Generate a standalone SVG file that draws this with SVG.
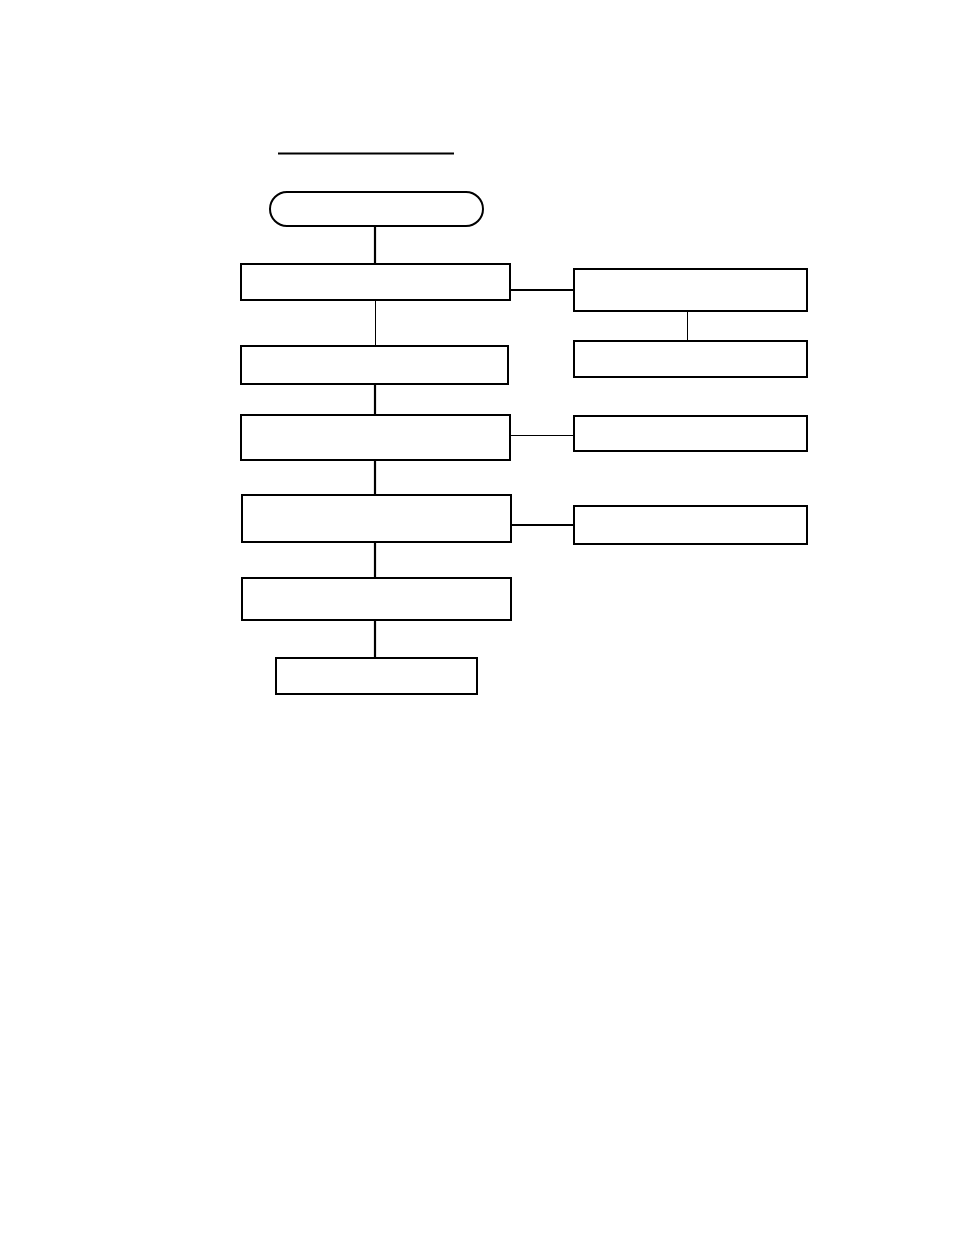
<svg xmlns="http://www.w3.org/2000/svg" width="954" height="1235" viewBox="0 0 954 1235">
<style>
.box{fill:#fff;stroke:#000;stroke-width:2}
.thick{stroke:#000;stroke-width:2.2;fill:none}
.thin{stroke:#000;stroke-width:1;fill:none}
</style>
<rect width="954" height="1235" fill="#fff"/>
<line x1="278" y1="153.5" x2="454" y2="153.5" stroke="#000" stroke-width="2"/>
<g id="connectors">
<line class="thick" x1="375" y1="226" x2="375" y2="264"/>
<line class="thin" x1="375.5" y1="300" x2="375.5" y2="346"/>
<line class="thick" x1="375" y1="384" x2="375" y2="415"/>
<line class="thick" x1="375" y1="460" x2="375" y2="495"/>
<line class="thick" x1="375" y1="542" x2="375" y2="578"/>
<line class="thick" x1="375" y1="620" x2="375" y2="658"/>
<line class="thick" x1="510" y1="290" x2="574" y2="290"/>
<line class="thin" x1="687.5" y1="310" x2="687.5" y2="341"/>
<line class="thin" x1="510" y1="435.5" x2="574" y2="435.5"/>
<line class="thick" x1="511" y1="525" x2="574" y2="525"/>
</g>
<g id="start"><rect class="box" x="270" y="192" width="213" height="34" rx="17"/></g>
<g id="n1"><rect class="box" x="241" y="264" width="269" height="36"/></g>
<g id="n2"><rect class="box" x="241" y="346" width="267" height="38"/></g>
<g id="n3"><rect class="box" x="241" y="415" width="269" height="45"/></g>
<g id="n4"><rect class="box" x="242" y="495" width="269" height="47"/></g>
<g id="n5"><rect class="box" x="242" y="578" width="269" height="42"/></g>
<g id="n6"><rect class="box" x="276" y="658" width="201" height="36"/></g>
<g id="r1"><rect class="box" x="574" y="269" width="233" height="42"/></g>
<g id="r2"><rect class="box" x="574" y="341" width="233" height="36"/></g>
<g id="r3"><rect class="box" x="574" y="416" width="233" height="35"/></g>
<g id="r4"><rect class="box" x="574" y="506" width="233" height="38"/></g>
</svg>
